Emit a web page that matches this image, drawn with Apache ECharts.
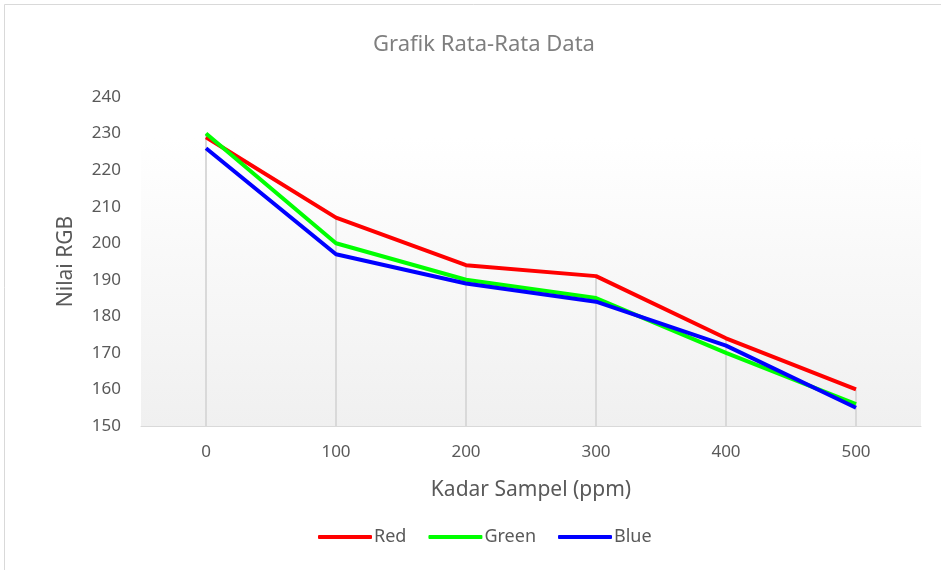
<!DOCTYPE html>
<html lang="en">

<head>
    <meta charset="UTF-8" />
    <title>Grafik Rata-Rata Data</title>
    <script src="https://cdn.jsdelivr.net/npm/echarts@6/dist/echarts.min.js"></script>
    <style>
        * {
            margin: 0;
        }

        #chart {
            width: 941px;
            height: 570px;
            background-color: #ffffff;
        }
    </style>
</head>

<body>
    <div id="chart"></div>
    <script>
        const categories = ["0", "100", "200", "300", "400", "500"];
        const redValues = [229, 207, 194, 191, 174, 160];
        const greenValues = [230, 200, 190, 185, 170, 156];
        const blueValues = [226, 197, 189, 184, 172, 155];
        const yTicks = { min: 150, max: 240, interval: 10 };

        // Excel-style drop lines: from the highest point at each category down to the axis
        const dropLines = categories.map((c, i) => Math.max(redValues[i], greenValues[i], blueValues[i]));

        const fontFamily = "'Noto Sans', sans-serif";
        const textColor = "#595959";

        const myChart = echarts.init(document.getElementById("chart"));

        const lineSeries = (name, color, data) => ({
            name: name,
            type: "line",
            data: data,
            symbol: "none",
            lineStyle: { color: color, width: 4 },
            itemStyle: { color: color },
            z: 3,
        });

        const option = {
            animation: false,
            textStyle: { fontFamily: fontFamily },
            graphic: [
                {
                    type: "rect",
                    shape: { x: 4.5, y: 4.5, width: 960, height: 600 },
                    style: { fill: "none", stroke: "#d9d9d9", lineWidth: 1 },
                    silent: true,
                },
            ],
            title: {
                text: "Grafik Rata-Rata Data",
                left: 479,
                top: 29,
                textAlign: "center",
                textStyle: { fontFamily: fontFamily, fontSize: 22, fontWeight: "normal", color: "#7f7f7f" },
            },
            legend: {
                data: ["Red", "Green", "Blue"],
                left: 313,
                top: 523,
                itemWidth: 54,
                itemHeight: 4,
                itemGap: 22,
                icon: "roundRect",
                textStyle: { fontFamily: fontFamily, fontSize: 18, color: textColor, padding: [0, 0, 0, -3] },
            },
            grid: {
                left: 141,
                right: 20,
                top: 97,
                bottom: 144,
                show: true,
                borderWidth: 0,
                backgroundColor: {
                    type: "linear",
                    x: 0, y: 0, x2: 0, y2: 1,
                    colorStops: [
                        { offset: 0, color: "#ffffff" },
                        { offset: 0.12, color: "#ffffff" },
                        { offset: 1, color: "#f0f0f0" },
                    ],
                },
            },
            xAxis: {
                type: "category",
                data: categories,
                boundaryGap: true,
                name: "Kadar Sampel (ppm)",
                nameLocation: "middle",
                nameGap: 54,
                nameTextStyle: { fontFamily: fontFamily, fontSize: 21, color: textColor },
                axisLine: { lineStyle: { color: "#d9d9d9", width: 1 } },
                axisTick: { show: false },
                axisLabel: { fontFamily: fontFamily, fontSize: 17, color: textColor, margin: 18 },
                splitLine: { show: false },
            },
            yAxis: {
                type: "value",
                min: yTicks.min,
                max: yTicks.max,
                interval: yTicks.interval,
                name: "Nilai RGB",
                nameLocation: "middle",
                nameGap: 64,
                nameTextStyle: { fontFamily: fontFamily, fontSize: 21, color: textColor },
                axisLine: { show: false },
                axisTick: { show: false },
                axisLabel: { fontFamily: fontFamily, fontSize: 17, color: textColor, margin: 20 },
                splitLine: { show: false },
            },
            series: [
                {
                    name: "drop",
                    type: "bar",
                    data: dropLines,
                    barWidth: 2,
                    itemStyle: { color: "#d9d9d9" },
                    silent: true,
                    z: 1,
                },
                lineSeries("Red", "#ff0000", redValues),
                lineSeries("Green", "#00ff00", greenValues),
                lineSeries("Blue", "#0000ff", blueValues),
            ],
        };

        myChart.setOption(option);
    </script>
</body>

</html>
